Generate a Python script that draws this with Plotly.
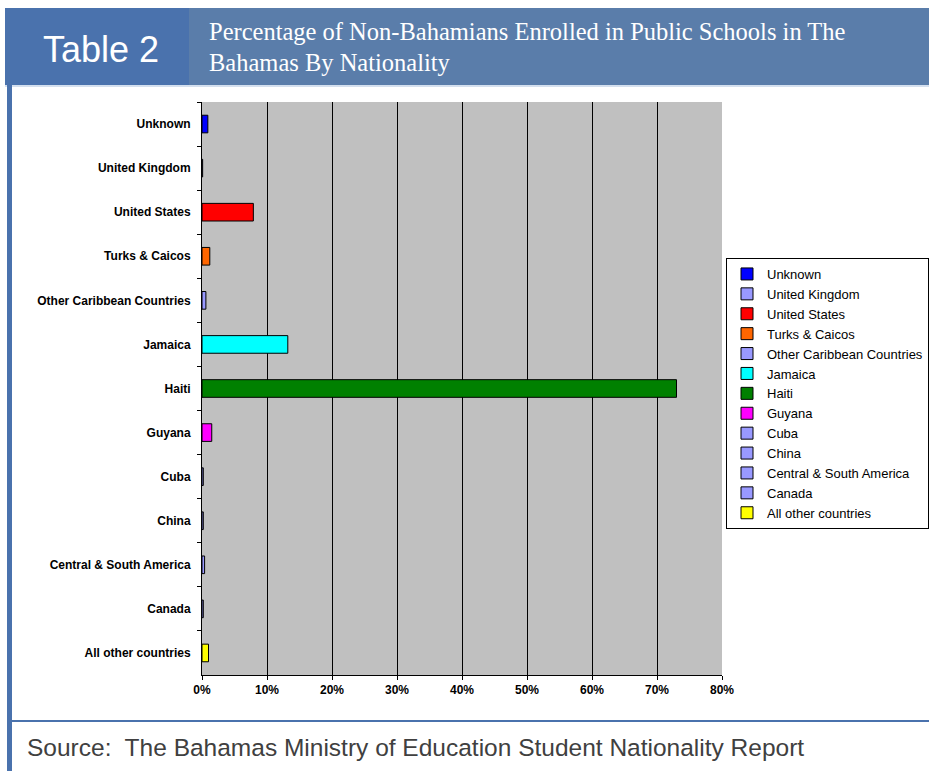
import plotly.graph_objects as go

categories = ["Unknown", "United Kingdom", "United States", "Turks & Caicos",
              "Other Caribbean Countries", "Jamaica", "Haiti", "Guyana", "Cuba",
              "China", "Central & South America", "Canada", "All other countries"]
percent = [0.9, 0.1, 7.9, 1.2, 0.6, 13.2, 73.0, 1.5, 0.2, 0.2, 0.4, 0.2, 1.0]
colors = ["#0000FF", "#9999FF", "#FF0000", "#FF6600", "#9999FF", "#00FFFF",
          "#008000", "#FF00FF", "#9999FF", "#9999FF", "#9999FF", "#9999FF", "#FFFF00"]
x_ticks = [0, 10, 20, 30, 40, 50, 60, 70, 80]

W, H = 929, 771
L, R, T, B = 202, 722, 102, 675

def px(X):
    return (X - L) / (R - L)

def py(Y):
    return (B - Y) / (B - T)

fig = go.Figure()
for cat, val, col in zip(categories, percent, colors):
    fig.add_trace(go.Bar(
        y=[cat], x=[val], name=cat, orientation="h", width=0.4,
        marker=dict(color=col, line=dict(color="#000000", width=1)),
    ))

shapes = [
    dict(type="rect", xref="paper", yref="paper", x0=px(189), x1=px(929), y0=py(85), y1=py(8),
         fillcolor="#5A7DAA", line=dict(width=0), layer="above"),
    dict(type="rect", xref="paper", yref="paper", x0=px(5), x1=px(189), y0=py(85), y1=py(8),
         fillcolor="#4A72AD", line=dict(width=0), layer="above"),
    dict(type="line", xref="paper", yref="paper", x0=px(5), x1=px(929), y0=py(86), y1=py(86),
         line=dict(color="#A9C0DE", width=1), layer="above"),
    dict(type="rect", xref="paper", yref="paper", x0=px(7), x1=px(12), y0=py(771), y1=py(85),
         fillcolor="#4A72AD", line=dict(width=0), layer="above"),
    dict(type="line", xref="paper", yref="paper", x0=px(9), x1=px(929), y0=py(721), y1=py(721),
         line=dict(color="#4A72AD", width=2), layer="above"),
]

annotations = [
    dict(text="Table 2", xref="paper", yref="paper", x=px(101), y=py(49), showarrow=False,
         xanchor="center", yanchor="middle", font=dict(family="Arial, Liberation Sans", size=36, color="white")),
    dict(text="Percentage of Non-Bahamians Enrolled in Public Schools in The", xref="paper", yref="paper",
         x=px(207), y=py(31), showarrow=False, xanchor="left", yanchor="middle",
         font=dict(family="Liberation Serif, Times New Roman", size=24.5, color="white")),
    dict(text="Bahamas By Nationality", xref="paper", yref="paper",
         x=px(207), y=py(62), showarrow=False, xanchor="left", yanchor="middle",
         font=dict(family="Liberation Serif, Times New Roman", size=24.5, color="white")),
    dict(text="Source:  The Bahamas Ministry of Education Student Nationality Report", xref="paper", yref="paper",
         x=px(25), y=py(747), showarrow=False, xanchor="left", yanchor="middle",
         font=dict(family="Arial, Liberation Sans", size=24.5, color="#404040")),
]

fig.update_layout(
    width=W, height=H,
    margin=dict(l=L, r=W - R, t=T, b=H - B, autoexpand=False),
    paper_bgcolor="white", plot_bgcolor="#C0C0C0",
    barmode="overlay",
    showlegend=True,
    legend=dict(
        xref="container", yref="container", x=726 / W, y=1 - 258 / H,
        xanchor="left", yanchor="top", traceorder="normal",
        bgcolor="white", bordercolor="#000000", borderwidth=1,
        font=dict(family="Arial, Liberation Sans", size=13, color="#000000"),
        itemwidth=30, itemclick=False,
    ),
    shapes=shapes, annotations=annotations,
    xaxis=dict(range=[0, 80], tickvals=x_ticks, ticktext=[f"{v}%" for v in x_ticks],
               showgrid=True, gridcolor="#000000", gridwidth=1, zeroline=False,
               showline=True, linecolor="#000000", linewidth=1,
               ticks="outside", ticklen=4, tickcolor="#000000",
               tickfont=dict(family="Arial, Liberation Sans", size=12, color="#000000", weight="bold")),
    yaxis=dict(categoryorder="array", categoryarray=categories, autorange="reversed",
               showgrid=False, zeroline=False, showline=True, linecolor="#000000", linewidth=1,
               ticks="outside", ticklen=4, tickcolor="#000000", tickson="boundaries",
               ticklabelstandoff=8,
               tickfont=dict(family="Arial, Liberation Sans", size=12, color="#000000", weight="bold")),
)

fig.write_html("out.html", config={"displayModeBar": False},
               post_script="document.body.style.margin='0';")
